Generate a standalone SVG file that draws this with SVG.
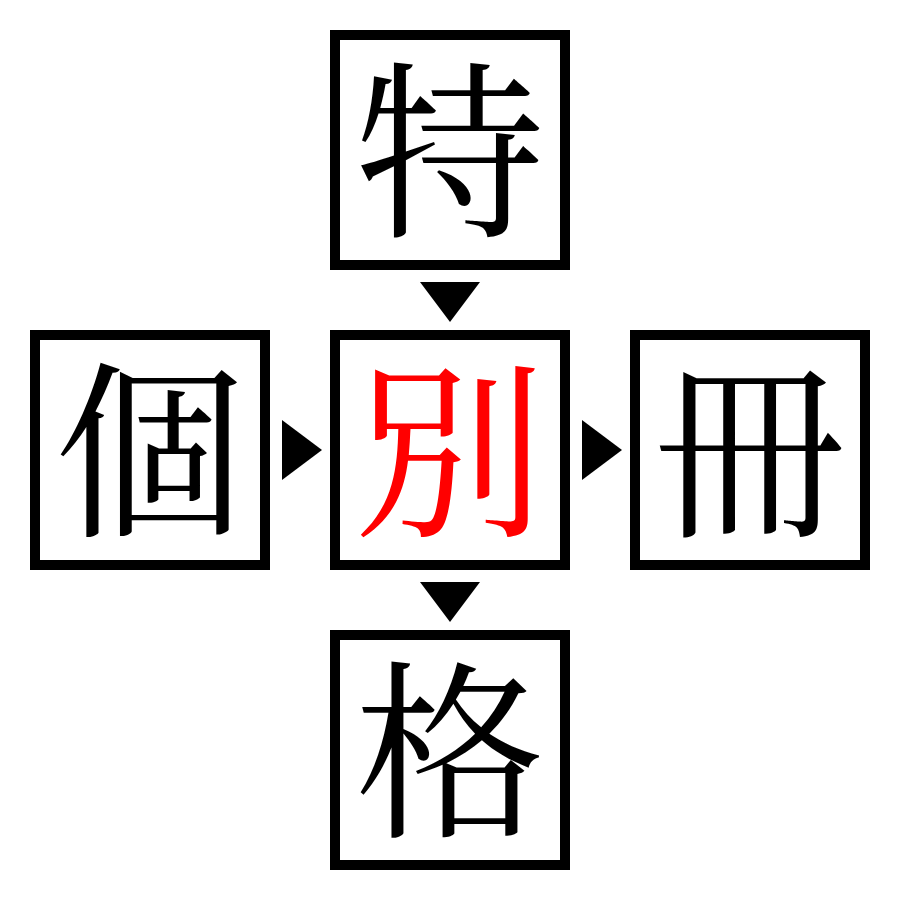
<svg xmlns="http://www.w3.org/2000/svg" width="900" height="900" viewBox="0 0 900 900">
<style>
.box{fill:#fff;stroke:#000;stroke-width:10}
.ch{font-family:"Noto Serif CJK JP","Noto Sans CJK JP",serif;font-size:190px;text-anchor:middle;fill:#000}
.red{fill:#ff0000}
.arr{fill:#000}
</style>
<rect width="900" height="900" fill="#fff"/>
<g id="n-top"><rect class="box" x="335" y="35" width="230" height="230"/><text class="ch" x="450" y="222">特</text></g>
<g id="n-left"><rect class="box" x="35" y="335" width="230" height="230"/><text class="ch" x="150" y="522">個</text></g>
<g id="n-center"><rect class="box" x="335" y="335" width="230" height="230"/><text class="ch red" x="450" y="522">別</text></g>
<g id="n-right"><rect class="box" x="635" y="335" width="230" height="230"/><text class="ch" x="750" y="522">冊</text></g>
<g id="n-bottom"><rect class="box" x="335" y="635" width="230" height="230"/><text class="ch" x="450" y="822">格</text></g>
<g id="connectors">
<polygon class="arr" points="420,282 480,282 450,322"/>
<polygon class="arr" points="282,420 282,480 322,450"/>
<polygon class="arr" points="582,420 582,480 622,450"/>
<polygon class="arr" points="420,582 480,582 450,622"/>
</g>
</svg>
